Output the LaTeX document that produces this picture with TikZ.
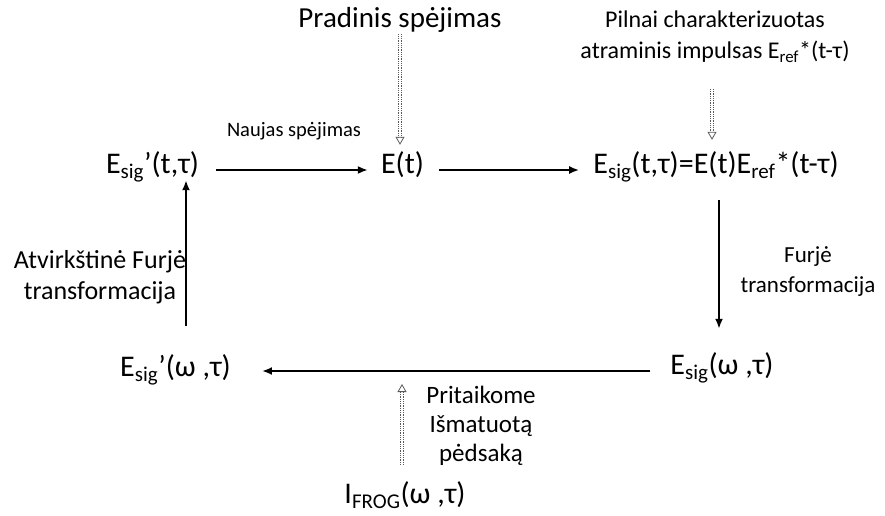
\documentclass[tikz,border=0pt]{standalone}
\usepackage{fontspec}
\setmainfont{Carlito}
\usetikzlibrary{arrows.meta}
\newcommand{\sub}[1]{\textsubscript{#1}}
\newcommand{\fsz}[2]{\fontsize{#1}{#2}\selectfont}

\begin{document}
\begin{tikzpicture}[x=1pt, y=-1pt]
  \tikzset{
    field/.style={inner sep=0pt, font=\fsz{30}{34}, text height=20pt, text depth=14pt},
    note/.style={align=center, inner sep=1pt},
    flow/.style={line width=2pt, -{Latex[length=10pt, width=8pt]}},
    hint/.style={gray!70!black, line width=0.8pt, dash pattern=on 0.9pt off 0.9pt,
      double=white, double distance=2.6pt, -{Triangle[open, length=8pt, width=9pt]}}
  }
  \useasboundingbox (0,0) rectangle (885,516);
  % upper row
  \node[field] (esigp) at (152.5,170) {E\sub{sig}’(t,τ)};
  \node[field] (et) at (402.5,170) {E(t)};
  \node[field] (esig) at (716,170) {E\sub{sig}(t,τ)=E(t)E\sub{ref}*(t-τ)};
  % lower row
  \node[field] (esigpw) at (175.5,373) {E\sub{sig}’(ω ,τ)};
  \node[field] (esigw) at (722,371) {E\sub{sig}(ω ,τ)};
  \node[field] (ifrog) at (405,500) {I\sub{FROG}(ω ,τ)};
  % inputs from outside
  \node[note, font=\fsz{29}{33}, anchor=base] (guess0) at (400,28) {Pradinis spėjimas};
  \node[note, font=\fsz{24}{31}] (eref) at (715,37) {Pilnai charakterizuotas\\atraminis impulsas E\sub{ref}*(t-τ)};
  % main loop
  \draw[flow, shorten <=17pt, shorten >=13pt] (esigp.east) -- (et.west)
    node[midway, above=26pt, xshift=4pt, font=\fsz{20.5}{24}] (newguess) {Naujas spėjimas};
  \draw[flow, shorten <=15pt, shorten >=14pt] (et.east) -- (esig.west);
  \draw[flow, shorten <=13pt, shorten >=25pt] ([xshift=3pt]esig.south) -- ([xshift=-3pt]esigw.north);
  \draw[flow, shorten <=20pt, shorten >=31pt] (esigw.west) -- (esigw.west -| esigpw.east);
  \draw[flow, shorten <=30pt] ([xshift=10.5pt]esigpw.north) -- ([xshift=33.5pt, yshift=7pt]esigp.south);
  \coordinate (hit) at (402,384);
  \node[note, font=\fsz{23}{30}] (ft) at (808,272) {Furjė\\transformacija};
  \node[note, font=\fsz{26}{31}] (ift) at (100,277) {Atvirkštinė Furjė\\transformacija};
  \node[note, font=\fsz{25}{29}] (apply) at (481,426) {Pritaikome\\Išmatuotą\\pėdsaką};
  % dotted hints
  \draw[hint, shorten >=8pt] (guess0.south) -- (et.north -| guess0);
  \draw[hint, shorten <=25pt, shorten >=13pt] (eref.south -| 712,0) -- (esig.north -| 712,0);
  \draw[hint, shorten <=18pt] (ifrog.north -| hit) -- (hit);
\end{tikzpicture}
\end{document}
